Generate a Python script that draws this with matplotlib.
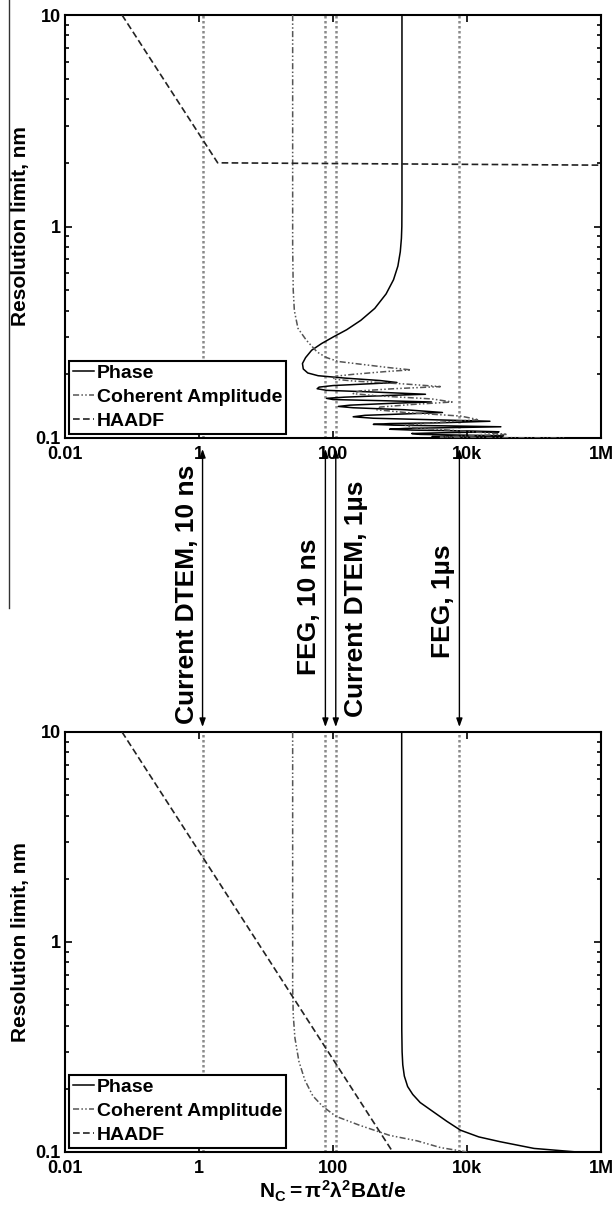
import matplotlib
matplotlib.use('Agg')
import matplotlib.pyplot as plt
import matplotlib.transforms as mtransforms
from matplotlib.lines import Line2D
from matplotlib.ticker import FixedLocator, LogLocator, NullFormatter

plt.rcParams['font.family'] = ['Liberation Sans', 'DejaVu Sans']
plt.rcParams['font.weight'] = 'bold'
plt.rcParams['mathtext.fontset'] = 'custom'
plt.rcParams['mathtext.rm'] = 'Liberation Sans:bold'
plt.rcParams['mathtext.bf'] = 'Liberation Sans:bold'
plt.rcParams['mathtext.it'] = 'Liberation Sans:bold'

# x tick values / labels
xticks = [0.01, 1, 100, 1e4, 1e6]
xticklabels = ['0.01', '1', '100', '10k', '1M']
yticks = [0.1, 1, 10]
yticklabels = ['0.1', '1', '10']

# reference lines (N_C for each source / pulse length)
ref_lines = [1.13, 77, 110, 7700]
ref_labels = ['Current DTEM, 10 ns', 'FEG, 10 ns', 'Current DTEM, 1\u00b5s', 'FEG, 1\u00b5s']
ref_side = ['left', 'left', 'right', 'left']
ref_text_y = [594, 607, 599, 601]   # text centre, px from top

# top panel curves
phase_top = [(1070, 10), (1070, 1.3), (1065, 1.0), (1050, 0.88), (1010, 0.76), (930, 0.65),
             (800, 0.56), (620, 0.48), (420, 0.41), (260, 0.36), (160, 0.325), (100, 0.3),
             (68, 0.28), (48, 0.26), (39, 0.24), (35, 0.225), (36, 0.212), (42, 0.203),
             (60, 0.197), (150, 0.192), (500, 0.187), (900, 0.183), (300, 0.18), (100, 0.177),
             (62, 0.174), (58, 0.171), (80, 0.168), (400, 0.165), (2400, 0.161), (700, 0.159),
             (150, 0.156), (80, 0.154), (100, 0.152), (600, 0.15), (2950, 0.148), (800, 0.146),
             (180, 0.143), (120, 0.141), (200, 0.139), (1200, 0.136), (4300, 0.132), (1200, 0.13),
             (300, 0.128), (200, 0.126), (400, 0.124), (3000, 0.122), (22000, 0.12), (4000, 0.118),
             (700, 0.117), (400, 0.116), (800, 0.115), (6000, 0.114), (32000, 0.113), (6000, 0.112),
             (1200, 0.111), (700, 0.11), (1500, 0.109), (10000, 0.108), (30000, 0.107),
             (5000, 0.106), (1500, 0.105), (2000, 0.104), (12000, 0.103), (35000, 0.1025),
             (8000, 0.102), (3000, 0.1015), (6000, 0.101), (25000, 0.1005), (40000, 0.1)]
coherent_top = [(25, 10), (25, 0.8), (25.5, 0.5), (26.5, 0.4), (30, 0.33), (40, 0.29),
                (58, 0.255), (80, 0.24), (120, 0.23), (300, 0.222), (700, 0.215), (1450, 0.21),
                (600, 0.206), (200, 0.2), (110, 0.196), (100, 0.19), (200, 0.186), (1200, 0.18),
                (4000, 0.175), (800, 0.171), (250, 0.167), (200, 0.162), (500, 0.158), (3000, 0.153),
                (6000, 0.148), (1500, 0.144), (500, 0.14), (450, 0.136), (1200, 0.132), (8000, 0.127),
                (15000, 0.122), (3000, 0.118), (1200, 0.115), (1500, 0.112), (8000, 0.108),
                (40000, 0.104), (8000, 0.102), (4000, 0.101), (20000, 0.1005), (300000, 0.1)]
haadf_top = [(0.071, 10), (1.9, 2.0), (1e6, 1.95)]

# bottom panel curves
phase_bot = [(1060, 10), (1060, 0.6), (1063, 0.38), (1075, 0.3), (1100, 0.26), (1160, 0.23),
             (1300, 0.205), (1550, 0.188), (2000, 0.172), (3000, 0.157), (5000, 0.14),
             (8000, 0.127), (15000, 0.118), (31000, 0.112), (100000, 0.104), (440000, 0.1)]
coherent_bot = [(25, 10), (25, 0.6), (25.5, 0.45), (27, 0.35), (31, 0.27), (38, 0.22),
                (50, 0.185), (70, 0.165), (110, 0.148), (250, 0.134), (700, 0.12), (1800, 0.113),
                (4000, 0.105), (10000, 0.1)]
haadf_bot = [(0.071, 10), (780, 0.1)]

W, H = 616, 1211
fig = plt.figure(figsize=(W / 100, H / 100), dpi=100)

def px_axes(left, top, right, bottom):
    return fig.add_axes([left / W, 1 - bottom / H, (right - left) / W, (bottom - top) / H])

ax_top = px_axes(65, 15, 601, 438)
ax_bot = px_axes(65, 732, 601, 1152)

def draw(ax, phase, coherent, haadf):
    for xv in ref_lines:
        ax.axvline(xv, color='#8a8a8a', lw=1.8, ls=(0, (1, 1)), zorder=1)
    ax.plot(*zip(*phase), color='k', lw=1.1, label='Phase', zorder=3)
    ax.plot(*zip(*coherent), color='#555555', lw=1.1, ls=(0, (4, 1.5, 1, 1.5, 1, 1.5)),
            label='Coherent Amplitude', zorder=3)
    ax.plot(*zip(*haadf), color='#222222', lw=1.2, ls=(0, (4, 2)), label='HAADF', zorder=3)
    ax.set_xscale('log')
    ax.set_yscale('log')
    ax.set_xlim(0.01, 1e6)
    ax.set_ylim(0.1, 10)
    ax.xaxis.set_major_locator(FixedLocator(xticks))
    ax.set_xticklabels(xticklabels)
    ax.xaxis.set_minor_locator(FixedLocator([]))
    ax.yaxis.set_major_locator(FixedLocator(yticks))
    ax.set_yticklabels(yticklabels)
    ax.yaxis.set_minor_locator(LogLocator(base=10, subs=range(2, 10)))
    ax.yaxis.set_minor_formatter(NullFormatter())
    ax.tick_params(which='both', direction='in', top=True, right=True, labelsize=13, width=1.2)
    ax.tick_params(which='major', length=5, pad=3)
    ax.tick_params(axis='x', which='major', pad=6)
    ax.tick_params(which='minor', length=3)
    for lbl in ax.get_xticklabels() + ax.get_yticklabels():
        lbl.set_fontweight('bold')
    for s in ax.spines.values():
        s.set_linewidth(1.5)
    ax.set_ylabel('Resolution limit, nm', fontsize=15, fontweight='bold', labelpad=4)
    leg = ax.legend(loc='lower left', fontsize=14, handlelength=1.1, handletextpad=0.15,
                    labelspacing=0.33, borderpad=0.2, borderaxespad=0.2, fancybox=False,
                    framealpha=1, edgecolor='k')
    leg.get_frame().set_linewidth(1.5)
    for t in leg.get_texts():
        t.set_fontweight('bold')

draw(ax_top, phase_top, coherent_top, haadf_top)
draw(ax_bot, phase_bot, coherent_bot, haadf_bot)

ax_bot.set_xlabel(r'$\mathbf{N_C = \pi^2\lambda^2B\Delta t/e}$', fontsize=15, labelpad=1)

# arrows between the panels
y_up = 1 - 449 / H
y_dn = 1 - 727 / H
trans = mtransforms.blended_transform_factory(ax_top.transData, fig.transFigure)
for xv, lbl, side, yc in zip(ref_lines, ref_labels, ref_side, ref_text_y):
    ax_top.annotate('', xy=(xv, y_up), xytext=(xv, y_dn), xycoords=trans, textcoords=trans,
                    annotation_clip=False,
                    arrowprops=dict(arrowstyle='<|-|>,head_length=0.5,head_width=0.18',
                                    color='k', lw=1.0, shrinkA=0, shrinkB=0))
    dx = -4 if side == 'left' else 8
    tt = mtransforms.offset_copy(trans, fig=fig, x=dx, y=0, units='dots')
    fig.text(xv, 1 - yc / H, lbl, transform=tt, rotation=90, fontsize=19, fontweight='bold',
             ha='right' if side == 'left' else 'left', va='center')

# stray crop line at the far left of the original figure
fig.add_artist(Line2D([9 / W, 9 / W], [1, 1 - 608 / H], color='#333333', lw=1.0))

fig.savefig('out.png', dpi=100)
